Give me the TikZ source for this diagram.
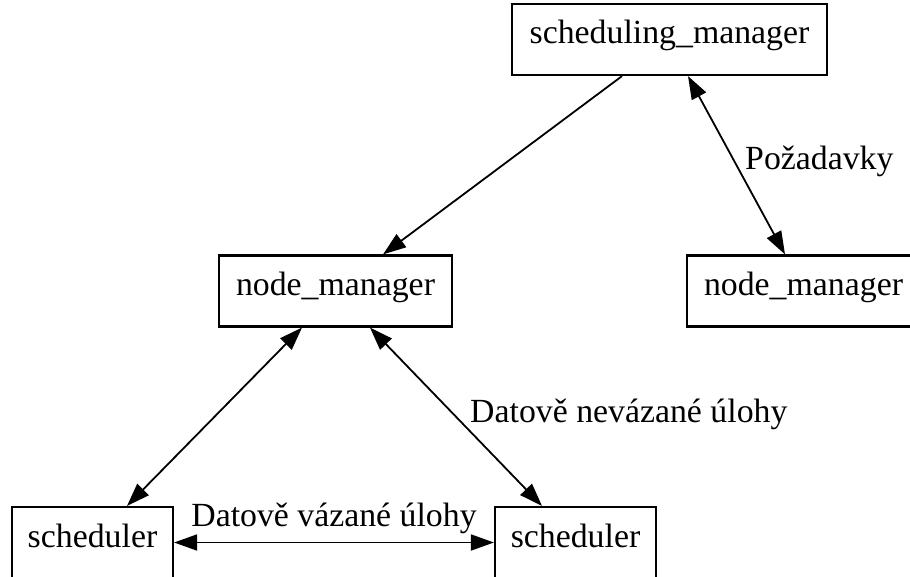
\documentclass[tikz,border=0pt]{standalone}
\usepackage{fontspec}
\setmainfont{Liberation Serif}
\usetikzlibrary{arrows.meta}
\begin{document}
\begin{tikzpicture}[x=1pt,y=-1pt,
  every node/.style={font=\fontsize{33.8}{40}\selectfont},
  box/.style={draw, line width=2.2pt, inner sep=0pt, minimum height=71pt,
              text height=23pt, text depth=14pt},
  tip/.tip={Triangle[length=23pt,width=16pt]},
  link/.style={line width=1.8pt, -tip},
  both/.style={line width=1.8pt, tip-tip},
  lbl/.style={inner sep=0pt, anchor=base west}]
\useasboundingbox (0,0) rectangle (910,577);
\clip (0,0) rectangle (910,577);

% boxes
\node[box, minimum width=315pt] (sm)  at (669.5,39.5) {scheduling\_manager};
\node[box, minimum width=233pt] (nm1) at (335.5,291)  {node\_manager};
\node[box, minimum width=233pt] (nm2) at (803.5,291)  {node\_manager};
\node[box, minimum width=161pt] (s1)  at (92.5,542.5) {scheduler};
\node[box, minimum width=161pt] (s2)  at (575.5,542.5) {scheduler};

% connectors
\draw[link] ([xshift=-47.5pt]sm.south) -- ([xshift=47.5pt]nm1.north);
\draw[both] ([xshift=18.5pt]sm.south) -- ([xshift=-18.5pt]nm2.north);
\draw[both] ([xshift=-33.5pt]nm1.south) -- ([xshift=34.5pt]s1.north);
\draw[both] ([xshift=34.5pt]nm1.south) -- ([xshift=-33.5pt]s2.north);
\draw[both] (s1.east) -- (s2.west);

% edge labels
\node[lbl] (lp) at (745,170) {Požadavky};
\node[lbl] (ln) at (470,422) {Datově nevázané úlohy};
\node[inner sep=0pt, anchor=base] (lv) at (334,526) {Datově vázané úlohy};
\end{tikzpicture}
\end{document}
